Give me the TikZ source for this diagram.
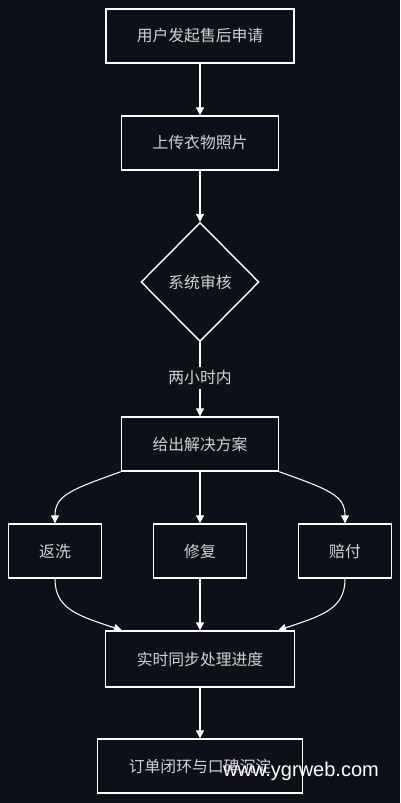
\documentclass[tikz,border=0pt]{standalone}
\usepackage{fontspec}
\setmainfont{Noto Sans CJK SC}
\newfontfamily\markfont{Liberation Sans}
\usetikzlibrary{arrows.meta, shapes.geometric, calc}
\definecolor{bg}{RGB}{13,17,23}
\definecolor{txt}{RGB}{210,210,210}

\begin{document}
\begin{tikzpicture}[x=0.02cm, y=-0.02cm,
  box/.style={draw=white, line width=0.8pt, fill=bg, text=txt, inner sep=0pt,
    font=\fontsize{9}{11}\selectfont, minimum height=1.08cm},
  arr/.style={draw=white, line width=0.6pt, -{Triangle[length=4.5pt, width=4.5pt]}}]
  \fill[bg] (0, 0) rectangle (400, 803);
  \node[box, minimum width=3.76cm] (apply) at (200, 36) {用户发起售后申请};
  \node[box, minimum width=3.14cm] (upload) at (200, 143) {上传衣物照片};
  \node[box, diamond, minimum width=2.36cm, minimum height=2.38cm] (review) at (200, 282) {系统审核};
  \node[text=txt, font=\fontsize{9}{11}\selectfont, inner sep=2pt] (limit) at (200, 378) {两小时内};
  \node[box, minimum width=3.14cm] (plan) at (200, 444) {给出解决方案};
  \node[box, minimum width=1.86cm] (rewash) at (55, 551) {返洗};
  \node[box, minimum width=1.86cm] (repair) at (200, 551) {修复};
  \node[box, minimum width=1.86cm] (refund) at (345, 551) {赔付};
  \node[box, minimum width=3.78cm, minimum height=1.12cm] (sync) at (200, 659) {实时同步处理进度};
  \node[box, minimum width=4.1cm] (close) at (200, 766) {订单闭环与口碑沉淀};
  \draw[arr] (apply) -- (upload);
  \draw[arr] (upload) -- (review);
  \draw[draw=white, line width=0.6pt] (review) -- (limit);
  \draw[arr] (limit) -- (plan);
  \draw[arr] (plan.south west) .. controls +(-50, 18) and +(0, -28) .. (rewash.north);
  \draw[arr] (plan) -- (repair);
  \draw[arr] (plan.south east) .. controls +(50, 18) and +(0, -28) .. (refund.north);
  \draw[arr] (rewash.south) .. controls +(0, 30) and +(-45, -15) .. ($(sync.north west)+(17, 0)$);
  \draw[arr] (repair) -- (sync);
  \draw[arr] (refund.south) .. controls +(0, 30) and +(45, -15) .. ($(sync.north east)+(-17, 0)$);
  \draw[arr] (sync) -- (close);
  \node[text=white, font=\markfont\fontsize{11.4}{13}\selectfont, inner sep=0pt] (mark) at (301, 771) {www.ygrweb.com};
\end{tikzpicture}
\end{document}
